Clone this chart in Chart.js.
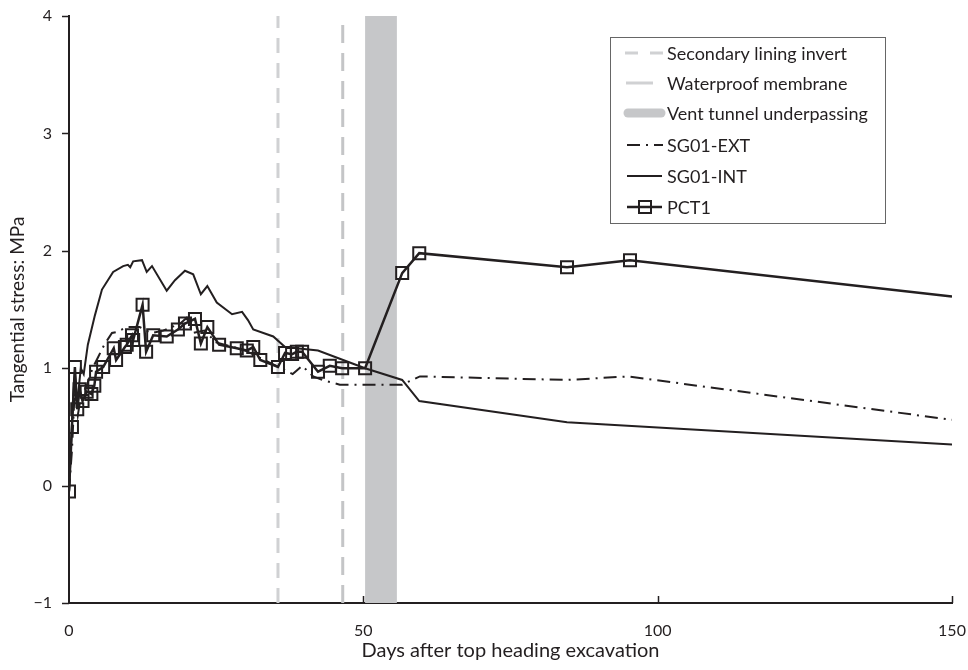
<!DOCTYPE html>
<html>
<head>
<meta charset="utf-8">
<script src="https://cdn.jsdelivr.net/npm/chart.js@4"></script>
<style>
  html, body { margin: 0; padding: 0; background: #fff; }
  #wrap { width: 968px; height: 670px; }
</style>
</head>
<body>
<div id="wrap"><canvas id="chart" width="968" height="670"></canvas></div>
<script>
// Data (days, MPa)
const pct1Days = [0, 0.5, 1, 1.4, 1.8, 2.3, 3, 3.8, 4.3, 4.6, 5.8, 7.6, 8, 9.5, 9.8, 10.7, 10.9, 12.5, 13.1, 14.3, 16.6, 18.5, 19.7, 21.4, 22.4, 23.5, 25.5, 28.5, 30.2, 31.3, 32.5, 35.5, 36.7, 37.9, 38.7, 39.6, 42.3, 44.3, 46.4, 50.3, 56.6, 59.5, 84.6, 95.3, 150];
const pct1Stress = [-0.05, 0.5, 1.01, 0.65, 0.82, 0.72, 0.8, 0.78, 0.85, 0.97, 1.01, 1.17, 1.07, 1.18, 1.2, 1.28, 1.24, 1.54, 1.14, 1.28, 1.27, 1.33, 1.38, 1.42, 1.21, 1.35, 1.2, 1.17, 1.15, 1.18, 1.07, 1.01, 1.13, 1.12, 1.14, 1.14, 0.97, 1.02, 1.0, 1.0, 1.81, 1.98, 1.86, 1.92, 1.61];

const intDays = [0, 0.7, 1, 1.4, 2, 2.5, 3.2, 4.4, 5.6, 7.5, 9.2, 10, 10.4, 10.9, 12.4, 13.2, 14.1, 16.6, 18, 19.7, 21.1, 22.4, 23.5, 25.1, 27.7, 29.4, 30.4, 31.3, 34.7, 36.7, 42.3, 46, 50.3, 56.6, 59.5, 84.6, 150];
const intStress = [-0.05, 0.75, 0.95, 0.7, 1.0, 0.95, 1.2, 1.45, 1.67, 1.82, 1.87, 1.88, 1.86, 1.91, 1.92, 1.82, 1.87, 1.66, 1.75, 1.83, 1.8, 1.63, 1.7, 1.56, 1.46, 1.48, 1.41, 1.33, 1.27, 1.18, 1.15, 1.08, 1.0, 0.9, 0.72, 0.54, 0.35];

const extDays = [0, 0.5, 1, 1.5, 2, 3, 4, 5, 6, 7.3, 8.2, 9.8, 12, 14, 16, 18.9, 20, 21, 23, 25, 28, 30, 32, 34, 36.4, 38, 39.6, 41.5, 43, 46, 50.3, 56.6, 59.6, 84.6, 95, 150];
const extStress = [-0.05, 0.3, 0.85, 0.6, 0.75, 0.85, 1.0, 1.1, 1.2, 1.3, 1.31, 1.35, 1.35, 1.3, 1.32, 1.38, 1.43, 1.3, 1.32, 1.22, 1.18, 1.15, 1.1, 1.05, 0.99, 0.95, 1.02, 0.93, 0.9, 0.86, 0.86, 0.86, 0.93, 0.9, 0.93, 0.56];

const liningDay = 35.5;
const membraneDay = 46.5;
const ventStart = 50.3;
const ventEnd = 55.7;

const xTicks = [0, 50, 100, 150];
const yTicks = [-1, 0, 1, 2, 3, 4];

const FONT = 'Lato, "Open Sans", sans-serif';
const INK = '#231f20';
const LIGHT_GREY = '#d0d1d3';
const MID_GREY = '#c4c5c7';
const BAND_GREY = '#c6c7c9';

const toPoints = (xs, ys) => xs.map((x, i) => ({ x, y: ys[i] }));

const legendItems = [
    { label: 'Secondary lining invert', kind: 'lining' },
    { label: 'Waterproof membrane', kind: 'membrane' },
    { label: 'Vent tunnel underpassing', kind: 'vent' },
    { label: 'SG01-EXT', kind: 'ext' },
    { label: 'SG01-INT', kind: 'int' },
    { label: 'PCT1', kind: 'pct' }
];

// Boxed legend drawn on the canvas
const boxLegend = {
    id: 'boxLegend',
    afterDraw(chart) {
        const ctx = chart.ctx;
        const left = 610, top = 37, right = 885, bottom = 223;
        ctx.save();
        ctx.fillStyle = '#fff';
        ctx.fillRect(left, top, right - left, bottom - top);
        ctx.strokeStyle = '#666';
        ctx.lineWidth = 1;
        ctx.strokeRect(left + 0.5, top + 0.5, right - left, bottom - top);

        const rows = [53, 83, 113, 145, 176, 207];
        legendItems.forEach((item, i) => {
            const y = rows[i];
            ctx.save();
            ctx.lineCap = 'butt';
            ctx.beginPath();
            if (item.kind === 'lining') {
                ctx.strokeStyle = LIGHT_GREY; ctx.lineWidth = 3;
                ctx.setLineDash([13, 12]);
                ctx.moveTo(625, y); ctx.lineTo(663, y);
            } else if (item.kind === 'membrane') {
                ctx.strokeStyle = LIGHT_GREY; ctx.lineWidth = 3;
                ctx.moveTo(626, y); ctx.lineTo(653, y);
            } else if (item.kind === 'vent') {
                ctx.strokeStyle = BAND_GREY; ctx.lineWidth = 9; ctx.lineCap = 'round';
                ctx.moveTo(628, y); ctx.lineTo(661, y);
            } else if (item.kind === 'ext') {
                ctx.strokeStyle = INK; ctx.lineWidth = 2;
                ctx.setLineDash([13, 6, 2, 6]);
                ctx.moveTo(627, y); ctx.lineTo(663, y);
            } else {
                ctx.strokeStyle = INK; ctx.lineWidth = item.kind === 'pct' ? 2.5 : 2;
                ctx.moveTo(627, y); ctx.lineTo(662, y);
            }
            ctx.stroke();
            if (item.kind === 'pct') {
                ctx.lineWidth = 2;
                ctx.strokeRect(639, y - 6, 12, 12);
            }
            ctx.restore();
            ctx.fillStyle = INK;
            ctx.font = '18px ' + FONT;
            ctx.textBaseline = 'middle';
            ctx.textAlign = 'left';
            ctx.fillText(item.label, 667, y + 1);
        });
        ctx.restore();
    }
};

// Tick marks: y ticks point out to the left, x ticks point up into the plot
const axisTicks = {
    id: 'axisTicks',
    afterDatasetsDraw(chart) {
        const { ctx, scales } = chart;
        const yb = scales.y.getPixelForValue(-1);
        const xl = scales.x.getPixelForValue(0);
        ctx.save();
        ctx.strokeStyle = INK;
        ctx.lineWidth = 1.5;
        xTicks.forEach(v => {
            if (v === 0) return;
            const px = Math.round(scales.x.getPixelForValue(v)) + 0.5;
            ctx.beginPath();
            ctx.moveTo(px, yb);
            ctx.lineTo(px, yb - 7);
            ctx.stroke();
        });
        yTicks.forEach(v => {
            const py = Math.round(scales.y.getPixelForValue(v)) + 0.5;
            ctx.beginPath();
            ctx.moveTo(xl, py);
            ctx.lineTo(xl - 7, py);
            ctx.stroke();
        });
        ctx.restore();
    }
};

const pctRadius = pct1Days.map((d, i) => i === pct1Days.length - 1 ? 0 : 8.5);

new Chart(document.getElementById('chart'), {
    type: 'scatter',
    data: {
        datasets: [
            {
                label: 'PCT1',
                data: toPoints(pct1Days, pct1Stress),
                showLine: true,
                borderColor: INK,
                borderWidth: 2.5,
                pointStyle: 'rect',
                pointRadius: pctRadius,
                pointBorderWidth: 2,
                pointBorderColor: INK,
                pointBackgroundColor: 'rgba(0,0,0,0)',
                order: 1
            },
            {
                label: 'SG01-INT',
                data: toPoints(intDays, intStress),
                showLine: true,
                borderColor: INK,
                borderWidth: 2,
                pointRadius: 0,
                order: 2
            },
            {
                label: 'SG01-EXT',
                data: toPoints(extDays, extStress),
                showLine: true,
                borderColor: INK,
                borderWidth: 2,
                borderDash: [13, 6, 2, 6],
                pointRadius: 0,
                order: 3
            },
            {
                label: 'Secondary lining invert',
                data: [{ x: liningDay, y: -1 }, { x: liningDay, y: 4 }],
                showLine: true,
                borderColor: LIGHT_GREY,
                borderWidth: 3,
                borderDash: [15, 10],
                pointRadius: 0,
                order: 4
            },
            {
                label: 'Waterproof membrane',
                data: [{ x: membraneDay, y: -1 }, { x: membraneDay, y: 4 }],
                showLine: true,
                borderColor: MID_GREY,
                borderWidth: 3,
                borderDash: [18, 10],
                pointRadius: 0,
                order: 5
            },
            {
                label: 'Vent tunnel underpassing',
                data: [{ x: ventStart, y: 4 }, { x: ventEnd, y: 4 }],
                showLine: true,
                borderWidth: 0,
                borderColor: 'rgba(0,0,0,0)',
                backgroundColor: BAND_GREY,
                fill: { value: -1 },
                pointRadius: 0,
                order: 6
            }
        ]
    },
    options: {
        responsive: false,
        animation: false,
        layout: { padding: 0 },
        plugins: {
            legend: { display: false },
            tooltip: { enabled: false }
        },
        scales: {
            x: {
                type: 'linear',
                min: 0,
                max: 150,
                afterBuildTicks: axis => { axis.ticks = xTicks.map(v => ({ value: v })); },
                afterFit: axis => {
                    axis.height = 67;
                    axis.paddingLeft = 0;
                    axis.paddingRight = 16;
                },
                grid: { display: false, drawTicks: false },
                border: { display: true, color: INK, width: 2 },
                ticks: { color: INK, font: { family: FONT, size: 16 }, padding: 18, maxRotation: 0 },
                title: {
                    display: true,
                    text: 'Days after top heading excavation',
                    color: INK,
                    font: { family: FONT, size: 20 },
                    padding: { top: 0, bottom: 7 }
                }
            },
            y: {
                min: -1,
                max: 4,
                afterBuildTicks: axis => { axis.ticks = yTicks.map(v => ({ value: v })); },
                afterFit: axis => {
                    axis.width = 69;
                    axis.paddingTop = 16;
                    axis.paddingBottom = 0;
                },
                grid: { display: false, drawTicks: false },
                border: { display: true, color: INK, width: 2 },
                ticks: {
                    color: INK,
                    font: { family: FONT, size: 16 },
                    padding: 17,
                    callback: v => v < 0 ? '\u2212' + Math.abs(v) : String(v)
                },
                title: {
                    display: true,
                    text: 'Tangential stress: MPa',
                    color: INK,
                    font: { family: FONT, size: 19 },
                    padding: { top: 6, bottom: 0 }
                }
            }
        }
    },
    plugins: [axisTicks, boxLegend]
});
</script>
</body>
</html>
